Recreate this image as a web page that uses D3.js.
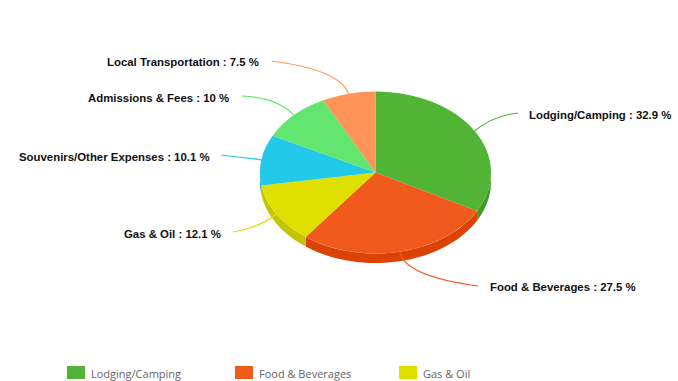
<!DOCTYPE html>
<html>
<head>
<meta charset="utf-8">
<script src="https://cdn.jsdelivr.net/npm/d3@7"></script>
<style>
html, body { margin: 0; padding: 0; background: #fff; overflow: hidden; }
</style>
</head>
<body>
<div id="chart"></div>
<script>
// data
var categories = ["Lodging/Camping", "Food & Beverages", "Gas & Oil", "Souvenirs/Other Expenses", "Admissions & Fees", "Local Transportation"];
var shares = [32.9, 27.5, 12.1, 10.1, 10, 7.5];
var colors = ["#52b435", "#f05a1c", "#dfe000", "#22c9e8", "#62e670", "#ff9458"];
var wallColors = ["#3f9a28", "#dc4203", "#c4c400", "#18a8c4", "#4ccb5a", "#e67a40"];
var legendCategories = categories.slice(0, 3);

// layout, per slice: where the label text starts and where its leader stops
var labelX = [529, 490, 124, 19, 88, 107];
var labelY = [119, 291, 238, 161, 102, 66];
var leaderEndX = [518, 478, 233, 221, 242, 272];
var leaderEndY = [113, 286, 232, 155, 96, 61];
var leaderBendX = [492, 404, 258, 240, 278, 340];
var leaderBendY = [116, 276, 228, 157, 98, 70];
var legendBoxX = [67, 235, 399];

var width = 678, height = 381;
var cx = 375.5, cy = 172.5, rx = 115.5, ry = 81, depth = 9.5;

var svg = d3.select("#chart").append("svg")
	.attr("width", width)
	.attr("height", height)
	.style("display", "block");

var pie = d3.pie().sort(null).value(function(d) { return d; });
var slices = pie(shares);

// the pie is a flat d3 arc squashed into an ellipse, angle 0 at the top going clockwise
var arc = d3.arc().innerRadius(0).outerRadius(rx);
var ellipseX = function(a) { return cx + rx * Math.sin(a); };
var ellipseY = function(a) { return cy - ry * Math.cos(a); };

// side wall, only the part of each slice that faces the viewer
var wall = d3.area()
	.x(function(a) { return ellipseX(a); })
	.y0(function(a) { return ellipseY(a); })
	.y1(function(a) { return ellipseY(a) + depth; });

svg.append("g").selectAll("path")
	.data(slices)
	.enter().append("path")
	.attr("d", function(d) {
		var a0 = Math.max(d.startAngle, Math.PI / 2), a1 = Math.min(d.endAngle, 3 * Math.PI / 2);
		if (a1 <= a0) return null;
		return wall(d3.range(0, 41).map(function(i) { return a0 + (a1 - a0) * i / 40; }));
	})
	.style("fill", function(d, i) { return wallColors[i]; });

svg.append("g")
	.attr("transform", "translate(" + cx + "," + cy + ") scale(1," + (ry / rx) + ")")
	.selectAll("path")
	.data(slices)
	.enter().append("path")
	.attr("d", arc)
	.style("fill", function(d, i) { return colors[i]; });

// leader lines
svg.append("g").selectAll("path")
	.data(slices)
	.enter().append("path")
	.attr("d", function(d, i) {
		var mid = (d.startAngle + d.endAngle) / 2;
		var p = d3.path();
		p.moveTo(ellipseX(mid), ellipseY(mid));
		p.quadraticCurveTo(leaderBendX[i], leaderBendY[i], leaderEndX[i], leaderEndY[i]);
		return p.toString();
	})
	.style("fill", "none")
	.style("stroke", function(d, i) { return colors[i]; })
	.style("stroke-width", 1.2);

// labels
svg.append("g").selectAll("text")
	.data(slices)
	.enter().append("text")
	.attr("x", function(d, i) { return labelX[i]; })
	.attr("y", function(d, i) { return labelY[i]; })
	.style("font-family", "'Liberation Sans', Arial, sans-serif")
	.style("font-size", "11.4px")
	.style("font-weight", "bold")
	.style("fill", "#111")
	.text(function(d, i) { return categories[i] + " : " + d.value + " %"; });

// legend, the rest of it falls outside the picture
var legend = svg.append("g").selectAll("g")
	.data(legendCategories)
	.enter().append("g");

legend.append("rect")
	.attr("x", function(d, i) { return legendBoxX[i]; })
	.attr("y", 366)
	.attr("width", 18)
	.attr("height", 13)
	.style("fill", function(d, i) { return colors[i]; });

legend.append("text")
	.attr("x", function(d, i) { return legendBoxX[i] + 24; })
	.attr("y", 378)
	.style("font-family", "'Open Sans', sans-serif")
	.style("font-size", "11px")
	.style("fill", "#666")
	.text(function(d) { return d; });
</script>
</body>
</html>
